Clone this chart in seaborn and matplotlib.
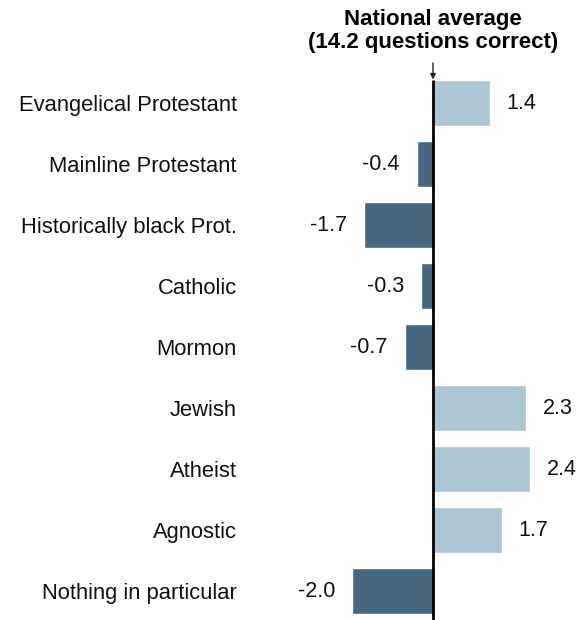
import matplotlib
matplotlib.use("Agg")
import matplotlib.pyplot as plt
import seaborn as sns
import pandas as pd

categories = ["Evangelical Protestant", "Mainline Protestant", "Historically black Prot.",
              "Catholic", "Mormon", "Jewish", "Atheist", "Agnostic", "Nothing in particular"]
values = [1.4, -0.4, -1.7, -0.3, -0.7, 2.3, 2.4, 1.7, -2.0]
value_labels = ["1.4", "-0.4", "-1.7", "-0.3", "-0.7", "2.3", "2.4", "1.7", "-2.0"]
title_lines = "National average\n(14.2 questions correct)"

POS = "#adc5d3"
NEG = "#46677f"

sns.set_theme(style="white")
plt.rcParams["font.family"] = ["Liberation Sans", "DejaVu Sans"]

df = pd.DataFrame({"cat": categories, "val": values})
df["sign"] = ["pos" if v >= 0 else "neg" for v in values]

W, H = 587, 620
fig = plt.figure(figsize=(W / 100, H / 100), dpi=100)
left_px, right_px, top_px, bot_px = 250, 587, 63, 620
ax = fig.add_axes([left_px / W, 1 - bot_px / H, (right_px - left_px) / W, (bot_px - top_px) / H])

sns.barplot(data=df, x="val", y="cat", hue="sign", palette={"pos": POS, "neg": NEG},
            dodge=False, width=0.77, legend=False, ax=ax, saturation=1)

zero_px = 433
ppu = 40.5
ax.set_xlim((left_px - zero_px) / ppu, (right_px - zero_px) / ppu)
ax.set_ylim((bot_px - 103) / 61, (top_px - 103) / 61)

for s in ax.spines.values():
    s.set_visible(False)
ax.set_xticks([])
ax.set_xlabel("")
ax.set_ylabel("")
ax.tick_params(axis="y", length=0, pad=9.5, labelsize=15.8, labelcolor="#111111")

# zero line
bar_top = -0.77 / 2
ax.plot([0, 0], [bar_top, ax.get_ylim()[0]], color="black", lw=2, solid_capstyle="butt", zorder=5)
ax.annotate("", xy=(0, bar_top), xytext=(0, ax.get_ylim()[1]),
            arrowprops=dict(arrowstyle="-|>", color="#222222", lw=1, mutation_scale=8,
                            shrinkA=0, shrinkB=0), zorder=6, annotation_clip=False)

off = 0.42
for i, (v, lab) in enumerate(zip(values, value_labels)):
    if v >= 0:
        ax.text(v + off, i, lab, ha="left", va="center", fontsize=15.5, color="#111111")
    else:
        ax.text(v - off, i, lab, ha="right", va="center", fontsize=15.5, color="#111111")

fig.text(zero_px / W, 1 - 31 / H, title_lines, ha="center", va="center", fontsize=16,
         fontweight="bold", linespacing=1.15, color="black")

fig.savefig("out.png", dpi=100)
